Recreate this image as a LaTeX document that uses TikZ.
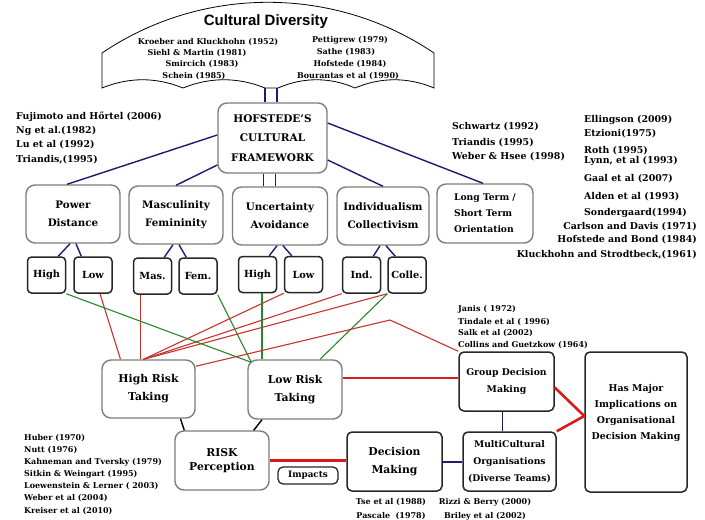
\documentclass[tikz,border=0pt]{standalone}
\usepackage{fontspec}
\setmainfont{DejaVu Serif}
\newfontfamily\titlefont{Liberation Sans}
\usetikzlibrary{calc,positioning}

\definecolor{linkblue}{RGB}{28,28,110}
\definecolor{riskred}{RGB}{200,50,45}
\definecolor{thickred}{RGB}{218,25,25}
\definecolor{riskgreen}{RGB}{40,135,40}
\definecolor{boxgray}{RGB}{125,125,125}

\tikzset{
  dimbox/.style={draw=boxgray, line width=1.4pt, rounded corners=9pt, align=center, inner sep=0pt,
    font=\bfseries\fontsize{10.3}{18}\selectfont},
  subbox/.style={draw=black!85, line width=1.5pt, rounded corners=4pt, minimum width=38pt,
    minimum height=36pt, inner sep=0pt, font=\bfseries\fontsize{9.8}{12}\selectfont},
  orgbox/.style={draw=black!85, line width=1.5pt, rounded corners=5pt, align=center, inner sep=0pt,
    font=\bfseries\fontsize{9.3}{16.5}\selectfont},
  reftext/.style={anchor=west, inner sep=0pt, font=\bfseries\fontsize{8}{9}\selectfont},
  bigref/.style={reftext, font=\bfseries\fontsize{9.4}{10}\selectfont},
  bluelink/.style={draw=linkblue, line width=1.4pt},
  redlink/.style={draw=riskred, line width=1.1pt},
  greenlink/.style={draw=riskgreen, line width=1.1pt},
  thicklink/.style={draw=thickred, line width=2.6pt, line join=round},
  redbar/.style={draw=thickred, line width=2pt},
}

\begin{document}
\begin{tikzpicture}[x=1pt,y=-1pt]
\useasboundingbox (0,0) rectangle (705,520);

% umbrella
\draw[line width=0.8pt] (102,88) -- (102,53) .. controls (202,-14.6) and (334,-14.6) .. (434,53) -- (434,88)
  .. controls (408,77) and (381,77) .. (355,88)
  .. controls (330,77) and (303,77) .. (278,88) -- (265,88)
  .. controls (238,77) and (210,77) .. (183,88)
  .. controls (156,77) and (129,77) .. (102,88) -- cycle;
\coordinate (umb) at (271,88);
\node[font=\titlefont\bfseries\fontsize{15}{18}\selectfont] (cd) at (266,22) {Cultural Diversity};

\foreach \x/\y/\t [count=\i] in {208/42/{Kroeber and Kluckhohn (1952)}, 197/53/{Siehl \& Martin (1981)},
    202/64/{Smircich (1983)}, 194/76/{Schein (1985)}, 350/40/{Pettigrew (1979)}, 346/52/{Sathe (1983)},
    350/64/{Hofstede (1984)}, 348/76/{Bourantas et al (1990)}}
  \node[reftext, anchor=center] (cdref\i) at (\x,\y) {\t};

% framework and dimensions
\node[dimbox, minimum width=109pt, minimum height=70pt, font=\bfseries\fontsize{10.5}{19.5}\selectfont]
  (hof) at (272.5,138) {HOFSTEDE'S\\CULTURAL\\FRAMEWORK};
\node[dimbox, minimum width=94pt, minimum height=58pt] (pd) at (73,214) {Power\\Distance};
\node[dimbox, minimum width=94pt, minimum height=58pt] (mas) at (176,215) {Masculinity\\Femininity};
\node[dimbox, minimum width=95pt, minimum height=58pt] (ua) at (280,216) {Uncertainty\\Avoidance};
\node[dimbox, minimum width=92pt, minimum height=58pt] (ind) at (383,216) {Individualism\\Collectivism};
\node[dimbox, minimum width=96pt, minimum height=59pt, align=left, font=\bfseries\fontsize{9.2}{16}\selectfont]
  (lt) at (485,213.5) {Long Term /\\Short Term\\Orientation};

\node[subbox] (pdhigh) at (46.5,275) {High};
\node[subbox] (pdlow) at (93,275) {Low};
\node[subbox] (masc) at (152.5,276) {Mas.};
\node[subbox] (fem) at (198,276) {Fem.};
\node[subbox] (uahigh) at (257.5,274.5) {High};
\node[subbox] (ualow) at (303.5,274.5) {Low};
\node[subbox] (indiv) at (361.5,275) {Ind.};
\node[subbox] (colle) at (407,275) {Colle.};

\draw[bluelink] ([xshift=-6pt]umb) -- ([xshift=-6pt]umb |- hof.north);
\draw[bluelink] ([xshift=6pt]umb) -- ([xshift=6pt]umb |- hof.north);
\draw[bluelink] ([yshift=3pt]hof.west) -- ([xshift=-6pt]pd.north);
\draw[bluelink] ([yshift=-27pt]hof.west) -- (mas.north);
\draw[bluelink] ([xshift=-9pt]hof.south) -- ([xshift=-9pt]hof.south |- ua.north);
\draw[bluelink] ([xshift=3pt]hof.south) -- ([xshift=3pt]hof.south |- ua.north);
\draw[bluelink] ([yshift=-22pt]hof.east) -- (ind.north);
\draw[bluelink] ([yshift=15pt]hof.east) -- ([xshift=-2pt]lt.north);
\foreach \p/\l/\r in {pd/pdhigh/pdlow, mas/masc/fem, ua/uahigh/ualow, ind/indiv/colle}{
  \draw[bluelink] ([xshift=-3pt]\p.south) -- ([xshift=-8pt]\l.north east);
  \draw[bluelink] ([xshift=3pt]\p.south) -- ([xshift=8pt]\r.north west);
}

% risk taking
\node[dimbox, minimum width=93pt, minimum height=58pt, font=\bfseries\fontsize{10.8}{18}\selectfont]
  (hr) at (148.5,389) {High Risk\\Taking};
\node[dimbox, minimum width=94pt, minimum height=59pt, font=\bfseries\fontsize{10.8}{18}\selectfont]
  (lr) at (295,389.5) {Low Risk\\Taking};
\node[dimbox, minimum width=94pt, minimum height=59pt, font=\bfseries\fontsize{10.8}{14}\selectfont]
  (rp) at (222,460.5) {RISK\\Perception};
\node[draw=black!85, line width=1.3pt, rounded corners=5pt, minimum width=60pt, minimum height=17pt,
  inner sep=0pt, font=\bfseries\fontsize{8.8}{10}\selectfont] (imp) at (308,475.5) {Impacts};

\coordinate (hrtop) at ([xshift=-5pt]hr.north);
\coordinate (lrtop) at ([xshift=4pt,yshift=-3pt]lr.north west);
\coordinate (bend) at (390,320);

\draw[redlink] ([xshift=7pt]pdlow.south) -- ([xshift=-28pt]hr.north);
\draw[redlink] ([xshift=-12pt]masc.south) -- ([xshift=-12pt]masc.south |- hr.north);
\foreach \s in {ualow, indiv, colle}
  \draw[redlink] (\s.south west) -- (hrtop);
\draw[greenlink] (pdhigh.south east) -- (lrtop);
\draw[greenlink] (fem.south east) -- (lrtop);
\draw[greenlink] ([xshift=4.5pt]uahigh.south) -- ([xshift=4.5pt]uahigh.south |- lr.north);
\draw[greenlink] (colle.south west) -- ([xshift=25pt]lr.north);

\draw[line width=1.4pt] ([xshift=32pt]hr.south) -- ([xshift=10pt]rp.north west);
\draw[line width=1.4pt] ([xshift=-33pt]lr.south) -- ([xshift=-16pt]rp.north east);

% organisations
\node[orgbox, minimum width=95pt, minimum height=59pt] (gdm) at (506.5,381.5) {Group Decision\\Making};
\node[orgbox, minimum width=95pt, minimum height=59pt, font=\bfseries\fontsize{10.8}{18}\selectfont]
  (dm) at (394.5,461.5) {Decision\\Making};
\node[orgbox, minimum width=93pt, minimum height=59pt, font=\bfseries\fontsize{9.2}{17}\selectfont]
  (mc) at (509.5,461.5) {MultiCultural\\Organisations\\(Diverse Teams)};
\node[orgbox, minimum width=102pt, minimum height=140pt] (hm) at (636,422) {};
\node[align=center, inner sep=0pt, font=\bfseries\fontsize{9.4}{16}\selectfont] (hmtext) at (636,413)
  {Has Major\\Implications on\\Organisational\\Decision Making};

\coordinate (lrout) at ([yshift=12pt]lr.east);
\draw[redlink] ([yshift=-7pt]hr.north east) -- (bend) -- (gdm.north west);
\draw[redbar] (lrout) -- (lrout -| gdm.west);
\draw[thicklink] (rp.east) -- (rp.east -| dm.west);
\draw[bluelink, line width=2pt] (dm.east) -- (mc.west);
\draw[bluelink] ([xshift=-4pt]gdm.south) -- ([xshift=-4pt]gdm.south |- mc.north);
\coordinate (hmjoin) at ([yshift=6pt]hm.west);
\draw[thicklink] ([yshift=-6pt]gdm.east) -- (hmjoin) -- (mc.north east);

% references
\foreach \y/\t [count=\i] in {117/{Fujimoto and Hőrtel (2006)}, 131/{Ng et al.(1982)},
    145/{Lu et al (1992)}, 160/{Triandis,(1995)}}
  \node[bigref] (hofref\i) at (16,\y) {\t};
\foreach \y/\t [count=\i] in {127/{Schwartz (1992)}, 143/{Triandis (1995)}, 157/{Weber \& Hsee (1998)}}
  \node[bigref] (ltref\i) at (452,\y) {\t};
\foreach \y/\t [count=\i] in {120/{Ellingson (2009)}, 134/{Etzioni(1975)}, 151/{Roth (1995)},
    161/{Lynn, et al (1993)}, 179/{Gaal et al (2007)}, 197/{Alden et al (1993)}, 213/{Sondergaard(1994)}}
  \node[bigref] (dimref\i) at (584,\y) {\t};
\foreach \y/\t [count=\i] in {227/{Carlson and Davis (1971)}, 240/{Hofstede and Bond (1984)},
    255/{Kluckhohn and Strodtbeck,(1961)}}
  \node[bigref, anchor=east] (dimrefb\i) at (697,\y) {\t};
\foreach \y/\t [count=\i] in {309/{Janis ( 1972)}, 322/{Tindale et al ( 1996)}, 333/{Salk et al (2002)},
    345/{Collins and Guetzkow (1964)}}
  \node[reftext] (gdmref\i) at (458,\y) {\t};
\foreach \y/\t [count=\i] in {438/{Huber (1970)}, 450/{Nutt (1976)}, 462/{Kahneman and Tversky (1979)},
    474/{Sitkin \& Weingart (1995)}, 486/{Loewenstein \& Lerner ( 2003)}, 498/{Weber et al (2004)},
    511/{Kreiser et al (2010)}}
  \node[reftext] (rpref\i) at (24,\y) {\t};
\foreach \x/\y/\t [count=\i] in {391/502/{Tse et al (1988)}, 391/516/{Pascale~~(1978)},
    485/502/{Rizzi \& Berry (2000)}, 485/516/{Briley et al (2002)}}
  \node[reftext, anchor=center] (dmref\i) at (\x,\y) {\t};
\end{tikzpicture}
\end{document}
